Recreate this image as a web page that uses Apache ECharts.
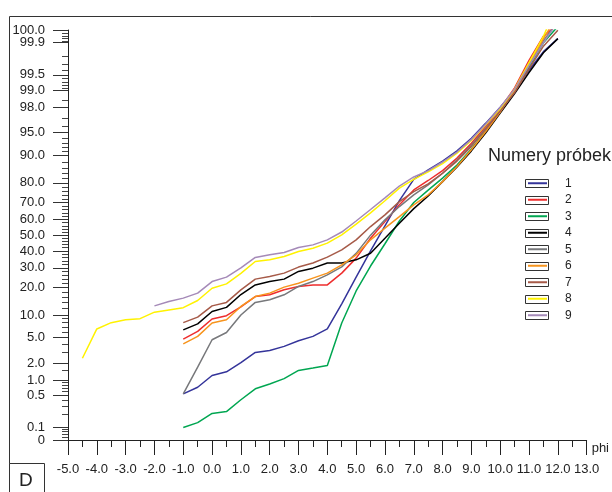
<!DOCTYPE html>
<html><head><meta charset="utf-8">
<script src="https://cdn.jsdelivr.net/npm/echarts/dist/echarts.min.js"></script>
<style>html,body{margin:0;padding:0;background:#fff}#c{width:612px;height:492px}</style>
</head><body><div id="c"></div>
<script>
// ---- data ----
const phi = [-4.5,-4.0,-3.5,-3.0,-2.5,-2.0,-1.5,-1.0,-0.5,0.0,0.5,1.0,1.5,2.0,2.5,3.0,3.5,4.0,4.5,5.0,5.5,6.0,6.5,7.0,7.5,8.0,8.5,9.0,9.5,10.0,10.5,11.0,11.5,12.0];
const seriesNames = ['1','2','3','4','5','6','7','8','9'];
const seriesColors = ['#34349a','#ee2d2d','#00a651','#000000','#77787b','#f7941d','#a65a48','#fff200','#a58ab8'];
// cumulative percent, null = no value
const s1 = [null,null,null,null,null,null,null,0.54,0.73,1.21,1.41,2.04,2.98,3.2,3.7,4.5,5.2,6.6,13.5,25,40,56,71,81.5,85.3,88.3,91.2,94.0,96.4,98.0,99.0,99.6,99.84,99.92];
const s2 = [null,null,null,null,null,null,null,4.75,6.1,8.9,9.8,12.5,16.2,16.9,19.0,20.5,21.2,21.2,27.1,35.6,48,58.6,68.7,76.6,81,85,89.2,93,96,97.9,99.1,99.75,99.93,99.965];
const s3 = [null,null,null,null,null,null,null,0.1,0.13,0.21,0.23,0.41,0.68,0.84,1.06,1.49,1.64,1.82,7.9,18.5,31,44.5,59,70,76.5,82,87,91.7,95.3,97.6,98.95,99.65,99.9,99.96];
const s4 = [null,null,null,null,null,null,null,6.4,7.7,11.0,12.3,17.0,21.2,22.8,24.0,28.0,29.8,32.7,32.7,34.6,38.6,48,57.6,66.5,73.5,80.5,86.3,91.2,95.0,97.5,98.85,99.55,99.83,99.92];
const s5 = [null,null,null,null,null,null,null,0.54,1.7,4.65,5.9,10.0,14.0,15.0,16.9,20.5,22.8,26.2,30.5,38.5,50,59.7,67.7,74.1,79,84,88.6,92.6,95.7,97.7,98.95,99.68,99.91,99.97];
const s6 = [null,null,null,null,null,null,null,4.05,5.2,7.9,8.7,12.6,16.2,17.6,20.2,22.0,24.5,27.1,31.7,37.6,47,54.5,61.7,68.7,74.1,80.5,86.5,91.5,95.2,97.6,99.0,99.7,99.92,99.98];
const s7 = [null,null,null,null,null,null,null,8.0,9.4,12.8,14.0,19.0,24.0,25.3,27.1,30.4,32.7,36.2,40.7,47,55.5,62.8,70.5,75.8,79.5,84,88.3,92.3,95.6,97.7,98.9,99.62,99.88,99.95];
const s8 = [2.4,6.6,8.0,8.7,9.0,10.8,11.5,12.2,14.7,19.7,21.7,27,33.6,34.6,36.6,39.6,41.7,44.9,50.2,57,64,71,77.5,81.5,84.5,87.5,90.6,93.6,96.2,97.9,99.05,99.72,99.93,99.99];
const s9 = [null,null,null,null,null,12.8,14.3,15.6,17.6,22.8,25,30,36,37.6,39,42.1,43.8,47,52,59,66,72.5,78.5,82.5,85,88,90.9,93.8,96.3,98.0,99.05,99.68,99.9,99.97];
const seriesValues = [s1,s2,s3,s4,s5,s6,s7,s8,s9];

// axis ticks (percent)
const yLabelTexts = ['0.1','0.5','1.0','2.0','5.0','10.0','20.0','30.0','40.0','50.0','60.0','70.0','80.0','90.0','95.0','98.0','99.0','99.5','99.9'];
const yLabelPct   = [0.1,0.5,1,2,5,10,20,30,40,50,60,70,80,90,95,98,99,99.5,99.9];
const yEndTexts = ['0','100.0']; // drawn at bottom / top of axis
const yMinorPct = [0.06,0.07,0.08,0.09,0.2,0.3,0.4,0.6,0.7,0.8,0.9,1.5,3,4,6,7,8,9,12,14,16,18,22,24,26,28,32,34,36,38,42,44,46,48,52,54,56,58,62,64,66,68,72,74,76,78,82,84,86,88,91,92,93,94,96,97,98.5,99.1,99.2,99.3,99.4,99.6,99.7,99.8,99.91,99.92,99.93,99.94];
const xMin = -5, xMax = 13;

// ---- probability (probit) transform ----
function probit(p){
  const a=[-3.969683028665376e+01,2.209460984245205e+02,-2.759285104469687e+02,1.383577518672690e+02,-3.066479806614716e+01,2.506628277459239e+00];
  const b=[-5.447609879822406e+01,1.615858368580409e+02,-1.556989798598866e+02,6.680131188771972e+01,-1.328068155288572e+01];
  const c=[-7.784894002430293e-03,-3.223964580411365e-01,-2.400758277161838e+00,-2.549732539343734e+00,4.374664141464968e+00,2.938163982698783e+00];
  const d=[7.784695709041462e-03,3.224671290700398e-01,2.445134137142996e+00,3.754408661907416e+00];
  const pl=0.02425, ph=1-pl; let q,r;
  if(p<pl){q=Math.sqrt(-2*Math.log(p));return (((((c[0]*q+c[1])*q+c[2])*q+c[3])*q+c[4])*q+c[5])/((((d[0]*q+d[1])*q+d[2])*q+d[3])*q+1);}
  if(p<=ph){q=p-0.5;r=q*q;return (((((a[0]*r+a[1])*r+a[2])*r+a[3])*r+a[4])*r+a[5])*q/(((((b[0]*r+b[1])*r+b[2])*r+b[3])*r+b[4])*r+1);}
  q=Math.sqrt(-2*Math.log(1-p));return -(((((c[0]*q+c[1])*q+c[2])*q+c[3])*q+c[4])*q+c[5])/((((d[0]*q+d[1])*q+d[2])*q+d[3])*q+1);
}
const Y_MIN = -3.29, Y_MAX = 3.295;
const yMajorPos = yLabelPct.map(p=>probit(p/100));
const yEndPos = [Y_MIN, Y_MAX];
const yMinorPos = yMinorPct.map(p=>probit(p/100));
function lookup(pos, texts){ return function(v){ let best=-1, bd=1e9; for(let i=0;i<pos.length;i++){ const dd=Math.abs(pos[i]-v); if(dd<bd){bd=dd;best=i;} } return bd<1e-3 ? texts[best] : ''; }; }

const FONT = "'Liberation Sans', Arial, Helvetica, sans-serif";
const chart = echarts.init(document.getElementById('c'), null, {renderer:'canvas'});

const series = seriesValues.map((vals,k)=>({
  name: seriesNames[k], type:'line', symbol:'none', showSymbol:false, clip:true,
  lineStyle:{color:seriesColors[k], width:1.5}, itemStyle:{color:seriesColors[k]},
  data: vals.map((v,i)=> v===null ? null : [phi[i], probit(v/100)]).filter(d=>d!==null),
  z: 3
}));

// legend box outlines
const legendTop = 175, rowH = 16.5;
const boxes = seriesNames.map((n,i)=>({
  type:'rect', shape:{x:525.5, y:Math.round(legendTop+rowH/2+rowH*i-4)+0.5, width:23, height:8},
  style:{fill:'none', stroke:'#333', lineWidth:1}, z:1
}));

const yLab = {margin:23, fontSize:13, color:'#222', fontFamily:FONT};
chart.setOption({
  animation:false,
  textStyle:{fontFamily:FONT},
  grid:{left:68, top:30, width:523, height:410, containLabel:false},
  xAxis:{
    type:'value', min:xMin, max:xMax, interval:1,
    name:'phi', nameLocation:'end', nameGap:5,
    nameTextStyle:{fontSize:13, color:'#222', verticalAlign:'top', fontFamily:FONT, padding:[2,0,0,0]},
    axisLine:{show:true, onZero:false, lineStyle:{color:'#222', width:1}},
    axisTick:{show:true, length:15, lineStyle:{color:'#222'}},
    minorTick:{show:true, splitNumber:2, length:7, lineStyle:{color:'#222'}},
    axisLabel:{margin:23, fontSize:13, color:'#222', fontFamily:FONT, formatter:v=>v.toFixed(1)},
    splitLine:{show:false}
  },
  yAxis:[{
    type:'value', min:Y_MIN, max:Y_MAX, position:'left',
    axisLine:{show:true, onZero:false, lineStyle:{color:'#222', width:1}},
    axisTick:{show:true, length:15, customValues:yMajorPos, lineStyle:{color:'#333'}},
    axisLabel:Object.assign({show:true, customValues:yMajorPos, showMinLabel:true, showMaxLabel:true, hideOverlap:false,
      formatter:lookup(yMajorPos, yLabelTexts)}, yLab),
    splitLine:{show:false}
  },{
    type:'value', min:Y_MIN, max:Y_MAX, position:'left', offset:0,
    axisLine:{show:false, onZero:false},
    axisTick:{show:true, length:6, customValues:yMinorPos, lineStyle:{color:'#444'}},
    axisLabel:{show:false},
    splitLine:{show:false}
  },{
    type:'value', min:Y_MIN, max:Y_MAX, position:'left', offset:0,
    axisLine:{show:false, onZero:false},
    axisTick:{show:true, length:15, customValues:yEndPos, lineStyle:{color:'#333'}},
    axisLabel:Object.assign({show:true, customValues:yEndPos, showMinLabel:true, showMaxLabel:true,
      formatter:lookup(yEndPos, yEndTexts)}, yLab),
    splitLine:{show:false}
  }],
  legend:{
    orient:'vertical', left:528, top:legendTop, padding:0, itemWidth:19, itemHeight:2, itemGap:0,
    icon:'rect', data:seriesNames,
    textStyle:{fontSize:12, color:'#222', lineHeight:rowH, padding:[0,0,0,13], fontFamily:FONT}
  },
  graphic:[
    {type:'polyline', shape:{points:[[9.5,492],[9.5,16.5],[612,16.5]]}, style:{stroke:'#333', fill:'none', lineWidth:1}},
    {type:'rect', shape:{x:9.5, y:463.5, width:35, height:30}, style:{stroke:'#333', fill:'#fff', lineWidth:1}},
    {type:'text', left:19, top:471, style:{text:'D', fontSize:19, fill:'#222', fontFamily:FONT}},
    {type:'text', left:488, top:147, style:{text:'Numery próbek', fontSize:18, fill:'#222', fontFamily:FONT}}
  ].concat(boxes),
  series: series
});
</script></body></html>
